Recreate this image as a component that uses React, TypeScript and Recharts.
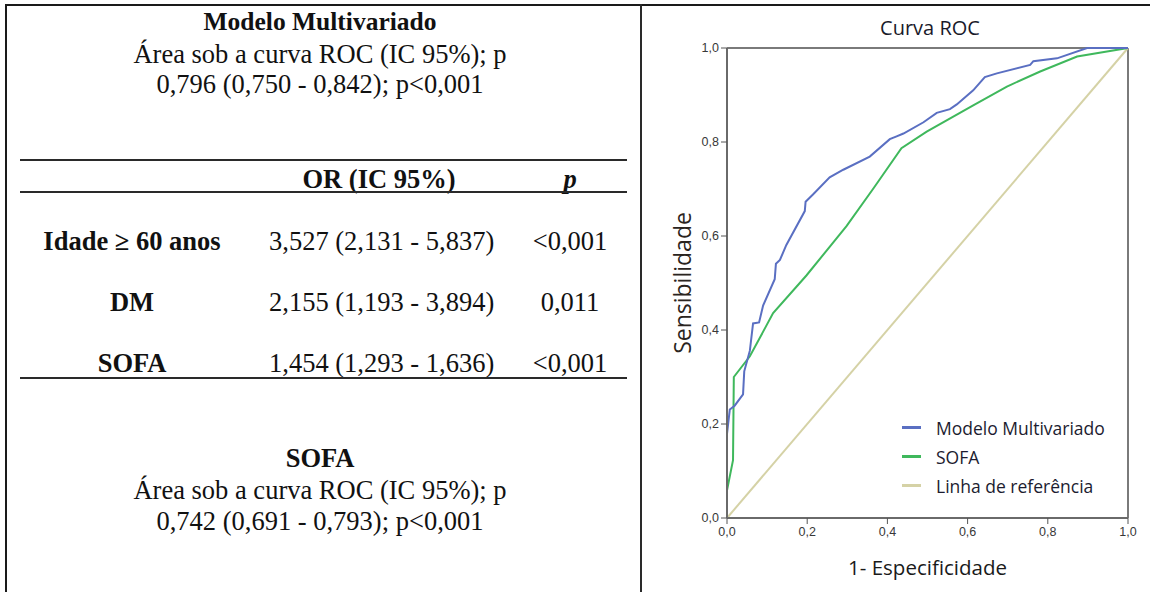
import { LineChart, Line, XAxis, YAxis, ReferenceLine } from "recharts";

// curva do modelo multivariado (1 - especificidade, sensibilidade)
const modeloFpr = [0, 0, 0.007, 0.019, 0.04, 0.043, 0.057, 0.065, 0.08, 0.09, 0.119, 0.122, 0.132, 0.148, 0.194, 0.196, 0.215, 0.256, 0.29, 0.356, 0.406, 0.423, 0.44, 0.49, 0.523, 0.556, 0.573, 0.614, 0.643, 0.673, 0.756, 0.764, 0.823, 0.898, 1.0];
const modeloTpr = [0, 0.179, 0.231, 0.239, 0.263, 0.312, 0.356, 0.414, 0.416, 0.452, 0.508, 0.541, 0.549, 0.581, 0.653, 0.673, 0.689, 0.725, 0.741, 0.769, 0.806, 0.812, 0.818, 0.842, 0.862, 0.87, 0.88, 0.91, 0.938, 0.946, 0.964, 0.972, 0.978, 1.0, 1.0];

// curva do SOFA
const sofaFpr = [0, 0, 0.015, 0.017, 0.057, 0.115, 0.198, 0.298, 0.365, 0.435, 0.498, 0.614, 0.698, 0.781, 0.873, 1.0];
const sofaTpr = [0, 0.059, 0.123, 0.3, 0.344, 0.436, 0.516, 0.621, 0.701, 0.787, 0.822, 0.878, 0.918, 0.95, 0.982, 1.0];

// linha de referência
const refFpr = [0, 1];
const refTpr = [0, 1];

const axisTicks = [0, 0.2, 0.4, 0.6, 0.8, 1.0];

const seriesNames = ["Modelo Multivariado", "SOFA", "Linha de referência"];
const seriesColors = ["#5a6fc2", "#3fb85c", "#d5d2a6"];

// tabela da esquerda
const predictors = ["Idade ≥ 60 anos", "DM", "SOFA"];
const orValues = ["3,527 (2,131 - 5,837)", "2,155 (1,193 - 3,894)", "1,454 (1,293 - 1,636)"];
const pValues = ["<0,001", "0,011", "<0,001"];
const rowCenters = [241, 302, 363];

const toPoints = (xs: number[], ys: number[]) => xs.map((x, i) => ({ fpr: x, tpr: ys[i] }));

const modeloData = toPoints(modeloFpr, modeloTpr);
const sofaData = toPoints(sofaFpr, sofaTpr);
const refData = toPoints(refFpr, refTpr);

const fmt = (v: number) => v.toFixed(1).replace(".", ",");

const serif = "'Liberation Serif', 'Times New Roman', serif";
const sans = "'Open Sans', 'Noto Sans', sans-serif";

function TextRow({ y, children, bold = false, left = 0, width = 640, italic = false, size = 26.5 }: any) {
  return (
    <div
      style={{
        position: "absolute",
        left,
        width,
        top: y - 15,
        height: 30,
        lineHeight: "30px",
        textAlign: "center",
        fontFamily: serif,
        fontSize: size,
        fontWeight: bold ? 700 : 400,
        fontStyle: italic ? "italic" : "normal",
        color: "#111",
        whiteSpace: "nowrap",
      }}
    >
      {children}
    </div>
  );
}

function Rule({ x, y, w, h, color = "#2a2a2a" }: any) {
  return <div style={{ position: "absolute", left: x, top: y, width: w, height: h, background: color }} />;
}

function RocLegend() {
  return (
    <div style={{ position: "absolute", left: 902, top: 413, fontFamily: sans, fontSize: 17.5, color: "#1c1c30" }}>
      {seriesNames.map((name, i) => (
        <div key={name} style={{ display: "flex", alignItems: "center", height: 29 }}>
          <div style={{ width: 19, height: 2.5, background: seriesColors[i], marginRight: 15 }} />
          <span style={{ whiteSpace: "nowrap" }}>{name}</span>
        </div>
      ))}
    </div>
  );
}

const renderYLabel = (props: any) => {
  const vb = props.viewBox;
  const cx = 40;
  const cy = vb.y + vb.height / 2;
  return (
    <text x={cx} y={cy} transform={`rotate(-90, ${cx}, ${cy})`} textAnchor="middle" dominantBaseline="central" fontFamily={sans} fontSize={23} fill="#2a2420">
      Sensibilidade
    </text>
  );
};

const renderXLabel = (props: any) => {
  const vb = props.viewBox;
  const cx = vb.x + vb.width / 2;
  return (
    <text x={cx} y={567} textAnchor="middle" dominantBaseline="central" fontFamily={sans} fontSize={20.5} fill="#1a1a1a">
      1- Especificidade
    </text>
  );
};

const tickStyle = { fontSize: 12.5, fill: "#383838", fontFamily: "'Liberation Sans', Arial, sans-serif" };

export default function App() {
  return (
    <div style={{ position: "absolute", left: 0, top: 0, width: 1152, height: 592, background: "#fff", overflow: "hidden" }}>
      {/* moldura */}
      <Rule x={5} y={4} w={1145} h={2} color="#1a1a1a" />
      <Rule x={5} y={4} w={2} h={588} color="#1a1a1a" />
      <Rule x={640} y={4} w={2} h={588} color="#2a2a2a" />

      {/* painel esquerdo */}
      <TextRow y={22} bold size={25.5}>Modelo Multivariado</TextRow>
      <TextRow y={54}>Área sob a curva ROC (IC 95%); p</TextRow>
      <TextRow y={84}>0,796 (0,750 - 0,842); p&lt;0,001</TextRow>

      <Rule x={20} y={159} w={607} h={2} />
      <TextRow y={179} bold left={269} width={220}>OR (IC 95%)</TextRow>
      <TextRow y={179} bold italic left={510} width={120}>p</TextRow>
      <Rule x={20} y={191} w={607} h={2} />

      {predictors.map((name, i) => (
        <div key={name}>
          <TextRow y={rowCenters[i]} bold left={22} width={220}>{name}</TextRow>
          <TextRow y={rowCenters[i]} left={269} width={220}>{orValues[i]}</TextRow>
          <TextRow y={rowCenters[i]} left={510} width={120}>{pValues[i]}</TextRow>
        </div>
      ))}
      <Rule x={20} y={377} w={607} h={2} />

      <TextRow y={458} bold>SOFA</TextRow>
      <TextRow y={490}>Área sob a curva ROC (IC 95%); p</TextRow>
      <TextRow y={521}>0,742 (0,691 - 0,793); p&lt;0,001</TextRow>

      {/* grafico ROC */}
      <div
        style={{
          position: "absolute",
          left: 642,
          top: 14,
          width: 510,
          textAlign: "center",
          fontFamily: sans,
          fontSize: 20,
          lineHeight: "28px",
          color: "#1a1a2a",
          paddingLeft: 66,
          boxSizing: "border-box",
        }}
      >
        Curva ROC
      </div>
      <div style={{ position: "absolute", left: 642, top: 0 }}>
        <LineChart width={510} height={592} margin={{ top: 48, right: 24, bottom: 0, left: 0 }}>
          <XAxis
            type="number"
            dataKey="fpr"
            domain={[0, 1]}
            ticks={axisTicks}
            tickFormatter={fmt}
            height={74}
            tickSize={6}
            tickMargin={3}
            axisLine={{ stroke: "#6a6a6a", strokeWidth: 2 }}
            tickLine={{ stroke: "#555" }}
            tick={tickStyle}
            label={renderXLabel}
          />
          <YAxis
            type="number"
            dataKey="tpr"
            domain={[0, 1]}
            ticks={axisTicks}
            tickFormatter={fmt}
            width={85}
            tickSize={6}
            tickMargin={2}
            axisLine={{ stroke: "#6a6a6a", strokeWidth: 2 }}
            tickLine={{ stroke: "#555" }}
            tick={tickStyle}
            label={renderYLabel}
          />
          <ReferenceLine y={1} stroke="#7a7a7a" strokeWidth={2} />
          <ReferenceLine x={1} stroke="#7a7a7a" strokeWidth={2} />
          <Line data={refData} dataKey="tpr" name={seriesNames[2]} type="linear" stroke={seriesColors[2]} strokeWidth={2} dot={false} activeDot={false} isAnimationActive={false} />
          <Line data={sofaData} dataKey="tpr" name={seriesNames[1]} type="linear" stroke={seriesColors[1]} strokeWidth={2} dot={false} activeDot={false} isAnimationActive={false} />
          <Line data={modeloData} dataKey="tpr" name={seriesNames[0]} type="linear" stroke={seriesColors[0]} strokeWidth={2} dot={false} activeDot={false} isAnimationActive={false} />
        </LineChart>
      </div>
      <RocLegend />
    </div>
  );
}
